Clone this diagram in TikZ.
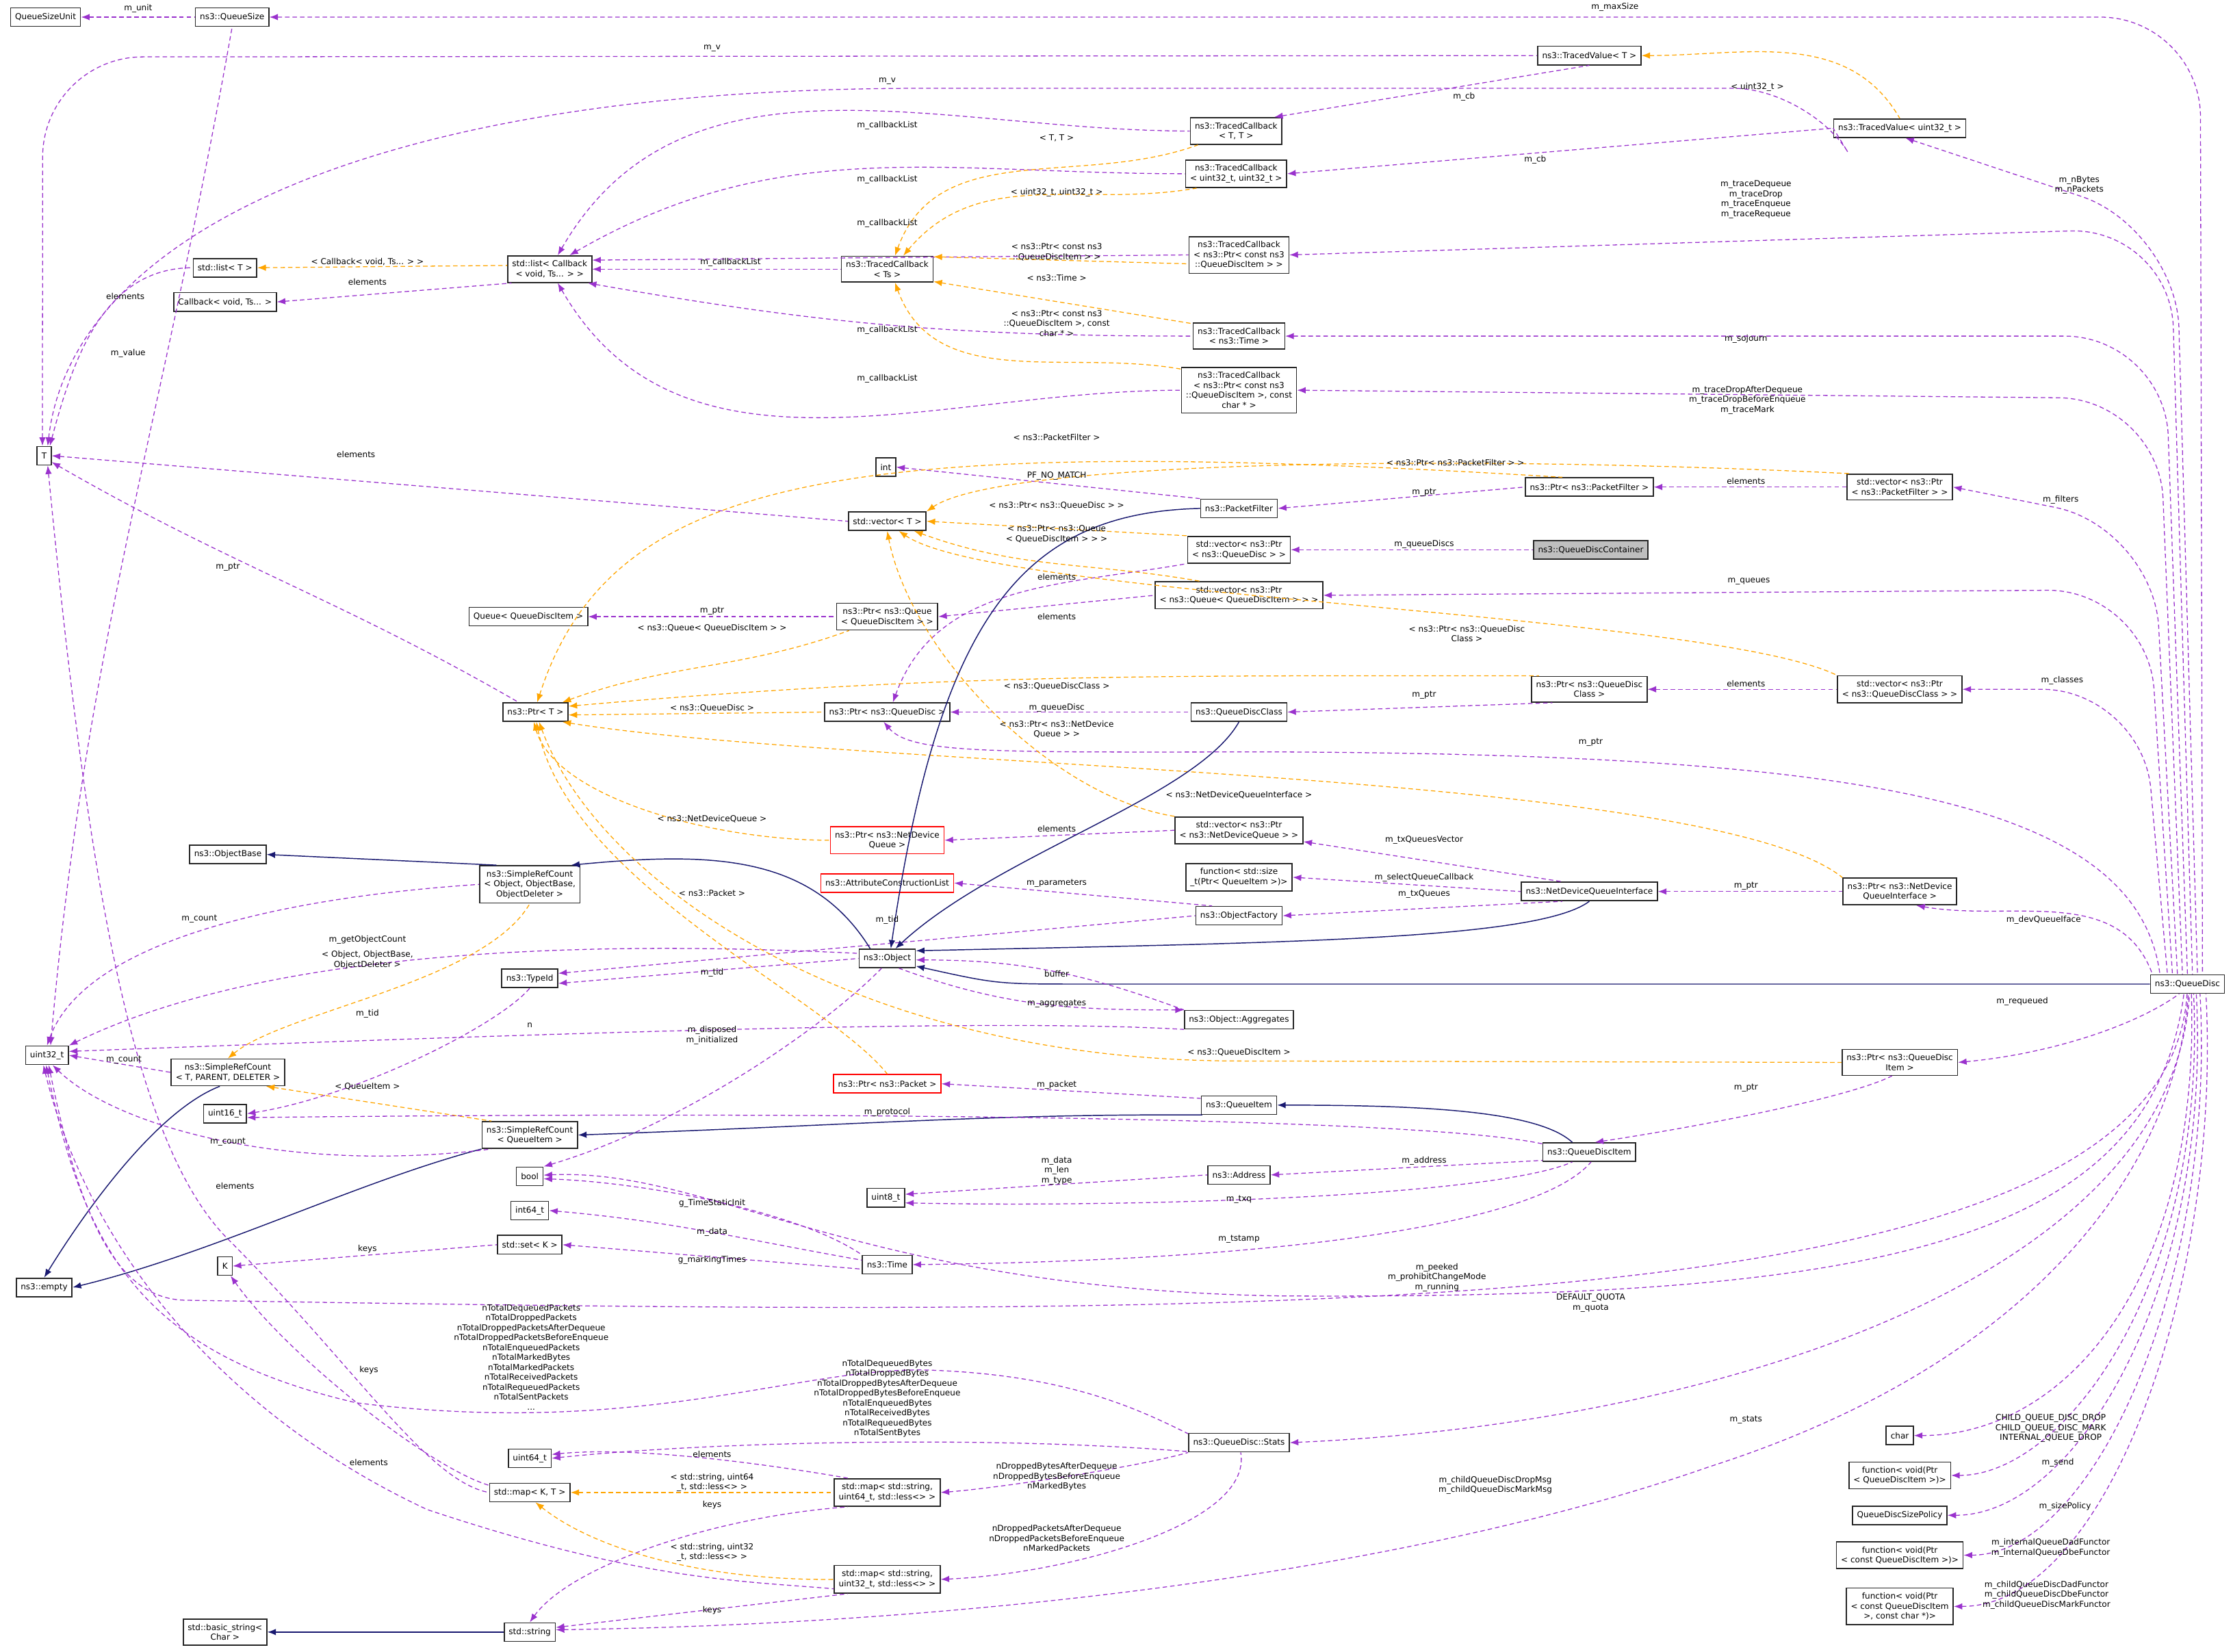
\documentclass[tikz,border=0pt]{standalone}
\usepackage{fontspec}
\setmainfont{DejaVu Sans}
\usetikzlibrary{arrows.meta,calc}
\definecolor{memc}{HTML}{9A32CD}
\definecolor{tplc}{HTML}{FFA500}
\definecolor{inhc}{HTML}{191970}
\begin{document}
\begin{tikzpicture}[x=0.02cm,y=0.02cm,
  every node/.style={font=\fontsize{3.3}{3.97}\selectfont},
  box/.style={draw=black!85, line width=0.45pt, fill=white, align=center, inner xsep=1.8pt, inner ysep=1.9pt, minimum height=7.4pt},
  rbox/.style={box, draw=red},
  gbox/.style={box, fill=black!25},
  lbl/.style={align=center, inner sep=0pt},
  mem/.style={draw=memc, line width=0.35pt, dash pattern=on 1.8pt off 1.2pt, {Latex[length=3.4pt,width=2.6pt]}-},
  tpl/.style={draw=tplc, line width=0.35pt, dash pattern=on 1.8pt off 1.2pt, {Latex[length=3.4pt,width=2.6pt]}-},
  inh/.style={draw=inhc, line width=0.4pt, {Latex[length=3.4pt,width=2.6pt]}-},
]
\useasboundingbox (0,0) rectangle (1568,-1160);
% ---------- nodes ----------
\node[box] (qsu) at (32,-12) {QueueSizeUnit};
\node[box] (qs) at (163,-12) {ns3::QueueSize};
\node[box] (T) at (31,-320) {T};
\node[box] (u32) at (33,-741) {uint32\_t};
\node[box] (emp) at (31,-904) {ns3::empty};
\node[box] (listT) at (158,-188) {std::list< T >};
\node[box] (cbv) at (158,-212) {Callback< void, Ts... >};
\node[box] (lc) at (386,-189) {std::list< Callback\\< void, Ts... > >};
\node[box] (tcs) at (623,-189) {ns3::TracedCallback\\< Ts >};
\node[box] (tcTT) at (868,-92) {ns3::TracedCallback\\< T, T >};
\node[box] (tcuu) at (868,-122) {ns3::TracedCallback\\< uint32\_t, uint32\_t >};
\node[box] (tcq) at (870,-179) {ns3::TracedCallback\\< ns3::Ptr< const ns3\\::QueueDiscItem > >};
\node[box] (tct) at (870,-236) {ns3::TracedCallback\\< ns3::Time >};
\node[box] (tcc) at (870,-274) {ns3::TracedCallback\\< ns3::Ptr< const ns3\\::QueueDiscItem >, const\\char * >};
\node[box] (tvT) at (1116,-39) {ns3::TracedValue< T >};
\node[box] (tvu) at (1334,-90) {ns3::TracedValue< uint32\_t >};
\node[box] (int) at (622,-328) {int};
\node[box] (vT) at (623,-366) {std::vector< T >};
\node[box] (pf) at (870,-357) {ns3::PacketFilter};
\node[box] (vpqd) at (870,-386) {std::vector< ns3::Ptr\\< ns3::QueueDisc > >};
\node[gbox] (qdc) at (1117,-386) {ns3::QueueDiscContainer};
\node[box] (ppf) at (1116,-342) {ns3::Ptr< ns3::PacketFilter >};
\node[box] (vpf) at (1334,-342) {std::vector< ns3::Ptr\\< ns3::PacketFilter > >};
\node[box] (vpq) at (870,-418) {std::vector< ns3::Ptr\\< ns3::Queue< QueueDiscItem > > >};
\node[box] (que) at (371,-433) {Queue< QueueDiscItem >};
\node[box] (pqq) at (623,-433) {ns3::Ptr< ns3::Queue\\< QueueDiscItem > >};
\node[box] (pT) at (376,-500) {ns3::Ptr< T >};
\node[box] (pqd) at (623,-500) {ns3::Ptr< ns3::QueueDisc >};
\node[box] (qdcls) at (870,-500) {ns3::QueueDiscClass};
\node[box] (pqdc) at (1116,-484) {ns3::Ptr< ns3::QueueDisc\\Class >};
\node[box] (vpc) at (1334,-484) {std::vector< ns3::Ptr\\< ns3::QueueDiscClass > >};
\node[box] (objb) at (160,-600) {ns3::ObjectBase};
\node[box] (src) at (372,-621) {ns3::SimpleRefCount\\< Object, ObjectBase,\\ObjectDeleter >};
\node[rbox] (pndq) at (623,-590) {ns3::Ptr< ns3::NetDevice\\Queue >};
\node[rbox] (acl) at (623,-620) {ns3::AttributeConstructionList};
\node[box] (vndq) at (870,-583) {std::vector< ns3::Ptr\\< ns3::NetDeviceQueue > >};
\node[box] (fsz) at (870,-616) {function< std::size\\\_t(Ptr< QueueItem >)>};
\node[box] (of) at (870,-643) {ns3::ObjectFactory};
\node[box] (ndqi) at (1116,-626) {ns3::NetDeviceQueueInterface};
\node[box] (pndqi) at (1334,-626) {ns3::Ptr< ns3::NetDevice\\QueueInterface >};
\node[box] (obj) at (623,-673) {ns3::Object};
\node[box] (tid) at (372,-687) {ns3::TypeId};
\node[box] (aggr) at (870,-716) {ns3::Object::Aggregates};
\node[box] (srt) at (160,-753) {ns3::SimpleRefCount\\< T, PARENT, DELETER >};
\node[rbox] (ppkt) at (623,-761) {ns3::Ptr< ns3::Packet >};
\node[box] (pqdi) at (1334,-746) {ns3::Ptr< ns3::QueueDisc\\Item >};
\node[box] (qd) at (1536,-691) {ns3::QueueDisc};
\node[box] (u16) at (158,-782) {uint16\_t};
\node[box] (srq) at (372,-797) {ns3::SimpleRefCount\\< QueueItem >};
\node[box] (qi) at (870,-776) {ns3::QueueItem};
\node[box] (qdi) at (1116,-809) {ns3::QueueDiscItem};
\node[box] (bool) at (372,-826) {bool};
\node[box] (addr) at (870,-825) {ns3::Address};
\node[box] (u8) at (622,-841) {uint8\_t};
\node[box] (i64) at (372,-850) {int64\_t};
\node[box] (setK) at (372,-874) {std::set< K >};
\node[box] (K) at (158,-889) {K};
\node[box] (time) at (623,-888) {ns3::Time};
\node[box] (char) at (1334,-1008) {char};
\node[box] (fvq) at (1334,-1036) {function< void(Ptr\\< QueueDiscItem >)>};
\node[box] (qdsp) at (1334,-1064) {QueueDiscSizePolicy};
\node[box] (fvc) at (1334,-1092) {function< void(Ptr\\< const QueueDiscItem >)>};
\node[box] (fvcc) at (1334,-1128) {function< void(Ptr\\< const QueueDiscItem\\>, const char *)>};
\node[box] (stats) at (870,-1013) {ns3::QueueDisc::Stats};
\node[box] (u64) at (372,-1024) {uint64\_t};
\node[box] (mapKT) at (372,-1048) {std::map< K, T >};
\node[box] (m64) at (623,-1048) {std::map< std::string,\\uint64\_t, std::less<> >};
\node[box] (m32) at (623,-1109) {std::map< std::string,\\uint32\_t, std::less<> >};
\node[box] (bstr) at (158,-1146) {std::basic\_string<\\Char >};
\node[box] (str) at (372,-1146) {std::string};
% ---------- edges ----------
\draw[mem] (qsu.east) -- (qs.west);
\draw[mem, rounded corners=40pt] (qs.east) -- (1545,-12) -- ([xshift=6pt]qd.north);
\draw[mem] (u32.70) to[out=85,in=-100] (qs.south);
\draw[mem, rounded corners=40pt] (T.100) -- (30,-40) -- (tvT.west);
\draw[mem, rounded corners=30pt] (T.70) .. controls (50,-170) and (250,-62) .. (700,-62) -- (1270,-62) -- (tvu.west);
\draw[mem] (tcTT.20) -- (tvT.south);
\draw[mem] (tcuu.east) -- (tvu.west);
\draw[tpl] (tvT.east) to[out=0,in=120] (tvu.north);
\draw[mem] (lc.60) to[out=60,in=180] (tcTT.west);
\draw[mem] (lc.35) to[out=30,in=180] (tcuu.west);
\draw[mem] (lc.12) -- (tcq.west);
\draw[mem] (lc.east) -- (tcs.west);
\draw[mem] (lc.-20) to[out=-10,in=180] (tct.west);
\draw[mem] (lc.-60) to[out=-60,in=180] (tcc.west);
\draw[tpl] (tcs.60) to[out=70,in=200] (tcTT.200);
\draw[tpl] (tcs.40) to[out=50,in=190] (tcuu.200);
\draw[tpl] (tcs.15) -- (tcq.190);
\draw[tpl] (tcs.-15) -- (tct.165);
\draw[tpl] (tcs.-60) to[out=-70,in=170] (tcc.160);
\draw[tpl] (listT.east) -- (lc.175);
\draw[mem] (cbv.east) -- (lc.200);
\draw[mem] (T.60) to[out=75,in=180] (listT.west);
\draw[mem] (T.east) -- (vT.west);
\draw[mem] (int.east) -- (pf.north west);
\draw[mem] (T.-40) to[out=-30,in=150] (pT.150);
\draw[mem, rounded corners=40pt] (tvu.-60) -- (1528,-160) -- ([xshift=4pt]qd.north);
\draw[mem, rounded corners=40pt] (tcq.east) -- (1524,-160) -- ([xshift=2pt]qd.north);
\draw[mem, rounded corners=40pt] (tct.east) -- (1520,-236) -- ([xshift=0pt]qd.north);
\draw[mem, rounded corners=40pt] (tcc.east) -- (1516,-280) -- ([xshift=-2pt]qd.north);
\draw[mem] (ppf.east) -- (vpf.west);
\draw[mem] (pf.east) -- (ppf.west);
\draw[tpl] (vT.north east) .. controls (700,-325) and (1000,-318) .. (vpf.165);
\draw[tpl] (pT.80) .. controls (430,-330) and (600,-305) .. (ppf.160);
\draw[mem, rounded corners=40pt] (vpf.east) -- (1512,-370) -- ([xshift=-4pt]qd.north);
\draw[mem] (vpqd.east) -- (qdc.west);
\draw[tpl] (vT.east) -- (vpqd.north west);
\draw[mem] (pqd.60) to[out=70,in=190] (vpqd.195);
\draw[tpl] (vT.-20) to[out=-20,in=170] (vpq.160);
\draw[mem] (pqq.east) -- (vpq.west);
\draw[mem, rounded corners=40pt] (vpq.east) -- (1508,-414) -- ([xshift=-6pt]qd.north);
\draw[mem] (que.east) -- (pqq.west);
\draw[tpl] (pT.20) to[out=20,in=200] (pqq.200);
\draw[mem] (T.-70) .. controls (60,-600) and (90,-800) .. (160,-870) .. controls (250,-960) and (300,-1040) .. (mapKT.west);
\draw[mem] (pqdc.east) -- (vpc.west);
\draw[tpl] (vT.-40) .. controls (700,-420) and (1200,-430) .. (vpc.north west);
\draw[mem, rounded corners=40pt] (vpc.east) -- (1504,-484) -- ([xshift=-8pt]qd.north);
\draw[mem] (qdcls.east) -- (pqdc.200);
\draw[tpl] (pT.10) to[out=5,in=180] (pqdc.165);
\draw[mem] (pqd.east) -- (qdcls.west);
\draw[tpl] (pT.-5) -- (pqd.west);
\draw[mem] (pqd.-110) .. controls (640,-530) and (700,-528) .. (900,-528) .. controls (1300,-530) and (1500,-560) .. ([xshift=-11pt]qd.north);
\draw[tpl] (pT.-100) .. controls (390,-560) and (500,-590) .. (pndq.west);
\draw[mem] (pndq.east) -- (vndq.west);
\draw[tpl] (vT.south) .. controls (640,-460) and (740,-560) .. (vndq.north west);
\draw[mem] (vndq.-10) -- (ndqi.160);
\draw[mem] (fsz.east) -- (ndqi.west);
\draw[mem] (of.east) -- (ndqi.200);
\draw[mem] (ndqi.east) -- (pndqi.west);
\draw[tpl] (pT.-20) .. controls (600,-540) and (1200,-540) .. (pndqi.north west);
\draw[mem] (pndqi.-40) to[out=-10,in=110] ([xshift=-14pt]qd.north);
\draw[mem] (acl.east) -- (of.160);
\draw[mem] (tid.10) -- (of.west);
\draw[mem] (tid.-10) -- (obj.west);
\draw[inh] (src.25) .. controls (500,-598) and (570,-600) .. (obj.150);
\draw[inh] (obj.70) .. controls (660,-430) and (720,-360) .. (pf.west);
\draw[inh] (obj.50) .. controls (700,-600) and (840,-560) .. (qdcls.south);
\draw[inh] (obj.15) .. controls (900,-662) and (1080,-660) .. (ndqi.south);
\draw[inh] (obj.-15) .. controls (700,-691) .. (760,-691) -- (qd.west);
\draw[mem] (aggr.170) to[out=180,in=-20] (obj.-40);
\draw[mem] (obj.-3) to[out=0,in=160] (aggr.north west);
\draw[mem] (bool.north east) .. controls (480,-790) and (580,-720) .. (obj.-120);
\draw[mem] (u32.north east) .. controls (200,-660) and (450,-662) .. (obj.170);
\draw[mem] (u32.north) .. controls (60,-660) and (200,-630) .. (src.west);
\draw[tpl] (srt.north) .. controls (200,-710) and (340,-690) .. (src.south);
\draw[inh] (objb.east) -- (src.150);
\draw[mem] (u16.east) .. controls (250,-770) and (350,-720) .. (tid.south);
\draw[mem] (u32.east) -- (srt.west);
\draw[inh] (emp.north) .. controls (60,-850) and (110,-780) .. (srt.-120);
\draw[mem] (u32.10) .. controls (400,-725) and (700,-715) .. (aggr.190);
\draw[mem] (pqdi.east) .. controls (1440,-740) and (1500,-720) .. (qd.230);
\draw[mem] (qdi.60) .. controls (1200,-790) and (1300,-770) .. (pqdi.-120);
\draw[tpl] (pT.-70) .. controls (420,-620) and (600,-745) .. (870,-745) -- (pqdi.west);
\draw[inh] (qi.east) .. controls (1000,-776) and (1080,-780) .. (qdi.150);
\draw[mem] (ppkt.east) -- (qi.170);
\draw[tpl] (pT.-85) .. controls (400,-620) and (580,-700) .. (ppkt.north);
\draw[inh] (srq.east) .. controls (600,-790) and (700,-782) .. (qi.195);
\draw[inh] (emp.east) .. controls (150,-880) and (250,-830) .. (srq.south west);
\draw[mem] (u32.-60) .. controls (80,-790) and (200,-825) .. (srq.200);
\draw[tpl] (srt.-20) -- (srq.160);
\draw[mem] (u16.-10) .. controls (600,-780) and (1000,-785) .. (qdi.170);
\draw[mem] (addr.east) -- (qdi.190);
\draw[mem] (u8.-15) .. controls (800,-848) and (1050,-840) .. (qdi.210);
\draw[mem] (time.east) .. controls (900,-885) and (1080,-860) .. (qdi.-80);
\draw[mem] (u8.10) -- (addr.west);
\draw[mem] (bool.-10) .. controls (450,-830) and (560,-850) .. (time.north west);
\draw[mem] (i64.east) to[out=-5,in=170] (time.170);
\draw[mem] (setK.east) -- (time.190);
\draw[mem] (K.east) -- (setK.west);
\draw[mem] (bool.5) .. controls (500,-820) and (600,-905) .. (900,-910) .. controls (1300,-912) and (1510,-880) .. (qd.250);
\draw[mem] (u32.-80) .. controls (55,-850) and (80,-912) .. (130,-913) .. controls (900,-925) and (1520,-935) .. (qd.268);
\draw[mem] (stats.east) .. controls (1200,-1000) and (1525,-900) .. (qd.282);
\draw[mem] (char.east) .. controls (1450,-1008) and (1545,-900) .. (qd.292);
\draw[mem] (fvq.east) .. controls (1450,-1036) and (1550,-900) .. (qd.302);
\draw[mem] (qdsp.east) .. controls (1460,-1064) and (1553,-900) .. (qd.312);
\draw[mem] (fvc.east) .. controls (1470,-1092) and (1556,-900) .. (qd.322);
\draw[mem] (fvcc.east) .. controls (1480,-1128) and (1560,-900) .. (qd.332);
\draw[mem] (str.5) .. controls (700,-1140) and (1000,-1100) .. (1200,-1030) .. controls (1450,-950) and (1530,-800) .. (qd.275);
\draw[mem] (u32.-95) .. controls (60,-880) and (100,-950) .. (250,-985) .. controls (450,-1010) and (560,-960) .. (650,-962) .. controls (750,-965) and (800,-990) .. (stats.170);
\draw[mem] (u64.east) .. controls (500,-1012) and (700,-1008) .. (stats.190);
\draw[mem] (m64.east) .. controls (700,-1045) and (800,-1030) .. (stats.south west);
\draw[mem] (m32.east) .. controls (750,-1105) and (880,-1070) .. (stats.-80);
\draw[mem] (u64.10) .. controls (450,-1015) and (550,-1030) .. (m64.160);
\draw[tpl] (mapKT.east) -- (m64.west);
\draw[mem] (str.north) .. controls (400,-1100) and (500,-1065) .. (m64.200);
\draw[tpl] (mapKT.-60) .. controls (420,-1090) and (500,-1110) .. (m32.west);
\draw[mem] (u32.-110) .. controls (60,-870) and (150,-990) .. (300,-1060) .. controls (450,-1110) and (520,-1110) .. (m32.190);
\draw[mem] (str.10) -- (m32.200);
\draw[mem] (K.-60) .. controls (200,-950) and (300,-1030) .. (mapKT.170);
\draw[inh] (bstr.east) -- (str.west);
% ---------- labels ----------
\node[lbl] (l1) at (97,-6) {m\_unit};
\node[lbl] (l2) at (1134,-5) {m\_maxSize};
\node[lbl] (l3) at (90,-248) {m\_value};
\node[lbl] (l4) at (500,-34) {m\_v};
\node[lbl] (l5) at (623,-57) {m\_v};
\node[lbl] (l6) at (1028,-68) {m\_cb};
\node[lbl] (l7) at (1078,-112) {m\_cb};
\node[lbl] (l8) at (1234,-61) {< uint32\_t >};
\node[lbl] (l9) at (623,-88) {m\_callbackList};
\node[lbl] (l10) at (623,-126) {m\_callbackList};
\node[lbl] (l11) at (623,-157) {m\_callbackList};
\node[lbl] (l12) at (513,-184) {m\_callbackList};
\node[lbl] (l13) at (623,-232) {m\_callbackList};
\node[lbl] (l14) at (623,-266) {m\_callbackList};
\node[lbl] (l15) at (742,-97) {< T, T >};
\node[lbl] (l16) at (742,-135) {< uint32\_t, uint32\_t >};
\node[lbl] (l17) at (742,-177) {< ns3::Ptr< const ns3\\::QueueDiscItem > >};
\node[lbl] (l18) at (742,-195) {< ns3::Time >};
\node[lbl] (l19) at (742,-227) {< ns3::Ptr< const ns3\\::QueueDiscItem >, const\\char * >};
\node[lbl] (l20) at (258,-184) {< Callback< void, Ts... > >};
\node[lbl] (l21) at (258,-198) {elements};
\node[lbl] (l22) at (88,-208) {elements};
\node[lbl] (l23) at (250,-319) {elements};
\node[lbl] (l24) at (160,-398) {m\_ptr};
\node[lbl] (l25) at (1460,-130) {m\_nBytes\\m\_nPackets};
\node[lbl] (l26) at (1233,-140) {m\_traceDequeue\\m\_traceDrop\\m\_traceEnqueue\\m\_traceRequeue};
\node[lbl] (l27) at (1226,-238) {m\_sojourn};
\node[lbl] (l28) at (1227,-281) {m\_traceDropAfterDequeue\\m\_traceDropBeforeEnqueue\\m\_traceMark};
\node[lbl] (l29) at (742,-307) {< ns3::PacketFilter >};
\node[lbl] (l30) at (1022,-325) {< ns3::Ptr< ns3::PacketFilter > >};
\node[lbl] (l31) at (742,-334) {PF\_NO\_MATCH};
\node[lbl] (l32) at (1226,-338) {elements};
\node[lbl] (l33) at (1000,-346) {m\_ptr};
\node[lbl] (l34) at (1447,-351) {m\_filters};
\node[lbl] (l35) at (742,-355) {< ns3::Ptr< ns3::QueueDisc > >};
\node[lbl] (l36) at (742,-375) {< ns3::Ptr< ns3::Queue\\< QueueDiscItem > > >};
\node[lbl] (l37) at (1000,-382) {m\_queueDiscs};
\node[lbl] (l38) at (742,-405) {elements};
\node[lbl] (l39) at (742,-433) {elements};
\node[lbl] (l40) at (1228,-408) {m\_queues};
\node[lbl] (l41) at (500,-429) {m\_ptr};
\node[lbl] (l42) at (500,-441) {< ns3::Queue< QueueDiscItem > >};
\node[lbl] (l43) at (1030,-445) {< ns3::Ptr< ns3::QueueDisc\\Class >};
\node[lbl] (l44) at (1448,-478) {m\_classes};
\node[lbl] (l45) at (742,-482) {< ns3::QueueDiscClass >};
\node[lbl] (l46) at (1226,-480) {elements};
\node[lbl] (l47) at (1000,-488) {m\_ptr};
\node[lbl] (l48) at (500,-497) {< ns3::QueueDisc >};
\node[lbl] (l49) at (742,-497) {m\_queueDisc};
\node[lbl] (l50) at (742,-512) {< ns3::Ptr< ns3::NetDevice\\Queue > >};
\node[lbl] (l51) at (1117,-521) {m\_ptr};
\node[lbl] (l52) at (870,-558) {< ns3::NetDeviceQueueInterface >};
\node[lbl] (l53) at (500,-575) {< ns3::NetDeviceQueue >};
\node[lbl] (l54) at (742,-582) {elements};
\node[lbl] (l55) at (1000,-590) {m\_txQueuesVector};
\node[lbl] (l56) at (1000,-616) {m\_selectQueueCallback};
\node[lbl] (l57) at (1000,-628) {m\_txQueues};
\node[lbl] (l58) at (1226,-622) {m\_ptr};
\node[lbl] (l59) at (500,-627) {< ns3::Packet >};
\node[lbl] (l60) at (140,-645) {m\_count};
\node[lbl] (l61) at (742,-620) {m\_parameters};
\node[lbl] (l62) at (623,-646) {m\_tid};
\node[lbl] (l63) at (1435,-646) {m\_devQueueIface};
\node[lbl] (l64) at (258,-660) {m\_getObjectCount};
\node[lbl] (l65) at (258,-674) {< Object, ObjectBase,\\ObjectDeleter >};
\node[lbl] (l66) at (500,-683) {m\_tid};
\node[lbl] (l67) at (742,-684) {buffer};
\node[lbl] (l68) at (742,-705) {m\_aggregates};
\node[lbl] (l69) at (1420,-703) {m\_requeued};
\node[lbl] (l70) at (258,-712) {m\_tid};
\node[lbl] (l71) at (372,-720) {n};
\node[lbl] (l72) at (500,-727) {m\_disposed\\m\_initialized};
\node[lbl] (l73) at (870,-739) {< ns3::QueueDiscItem >};
\node[lbl] (l74) at (87,-744) {m\_count};
\node[lbl] (l75) at (258,-763) {< QueueItem >};
\node[lbl] (l76) at (742,-762) {m\_packet};
\node[lbl] (l77) at (1226,-764) {m\_ptr};
\node[lbl] (l78) at (623,-781) {m\_protocol};
\node[lbl] (l79) at (160,-802) {m\_count};
\node[lbl] (l80) at (165,-833) {elements};
\node[lbl] (l81) at (742,-822) {m\_data\\m\_len\\m\_type};
\node[lbl] (l82) at (1000,-815) {m\_address};
\node[lbl] (l83) at (870,-842) {m\_txq};
\node[lbl] (l84) at (500,-845) {g\_TimeStaticInit};
\node[lbl] (l85) at (500,-865) {m\_data};
\node[lbl] (l86) at (870,-870) {m\_tstamp};
\node[lbl] (l87) at (258,-877) {keys};
\node[lbl] (l88) at (500,-885) {g\_markingTimes};
\node[lbl] (l89) at (1009,-897) {m\_peeked\\m\_prohibitChangeMode\\m\_running};
\node[lbl] (l90) at (1117,-915) {DEFAULT\_QUOTA\\m\_quota};
\node[lbl] (l91) at (373,-953) {nTotalDequeuedPackets\\nTotalDroppedPackets\\nTotalDroppedPacketsAfterDequeue\\nTotalDroppedPacketsBeforeEnqueue\\nTotalEnqueuedPackets\\nTotalMarkedBytes\\nTotalMarkedPackets\\nTotalReceivedPackets\\nTotalRequeuedPackets\\nTotalSentPackets\\...};
\node[lbl] (l92) at (259,-962) {keys};
\node[lbl] (l93) at (623,-982) {nTotalDequeuedBytes\\nTotalDroppedBytes\\nTotalDroppedBytesAfterDequeue\\nTotalDroppedBytesBeforeEnqueue\\nTotalEnqueuedBytes\\nTotalReceivedBytes\\nTotalRequeuedBytes\\nTotalSentBytes};
\node[lbl] (l94) at (1226,-997) {m\_stats};
\node[lbl] (l95) at (1440,-1003) {CHILD\_QUEUE\_DISC\_DROP\\CHILD\_QUEUE\_DISC\_MARK\\INTERNAL\_QUEUE\_DROP};
\node[lbl] (l96) at (1050,-1043) {m\_childQueueDiscDropMsg\\m\_childQueueDiscMarkMsg};
\node[lbl] (l97) at (500,-1021) {elements};
\node[lbl] (l98) at (742,-1037) {nDroppedBytesAfterDequeue\\nDroppedBytesBeforeEnqueue\\nMarkedBytes};
\node[lbl] (l99) at (500,-1041) {< std::string, uint64\\\_t, std::less<> >};
\node[lbl] (l100) at (500,-1057) {keys};
\node[lbl] (l101) at (1445,-1027) {m\_send};
\node[lbl] (l102) at (1450,-1058) {m\_sizePolicy};
\node[lbl] (l103) at (742,-1080) {nDroppedPacketsAfterDequeue\\nDroppedPacketsBeforeEnqueue\\nMarkedPackets};
\node[lbl] (l104) at (1440,-1087) {m\_internalQueueDadFunctor\\m\_internalQueueDbeFunctor};
\node[lbl] (l105) at (500,-1090) {< std::string, uint32\\\_t, std::less<> >};
\node[lbl] (l106) at (259,-1027) {elements};
\node[lbl] (l107) at (500,-1131) {keys};
\node[lbl] (l108) at (1437,-1120) {m\_childQueueDiscDadFunctor\\m\_childQueueDiscDbeFunctor\\m\_childQueueDiscMarkFunctor};
\end{tikzpicture}
\end{document}
